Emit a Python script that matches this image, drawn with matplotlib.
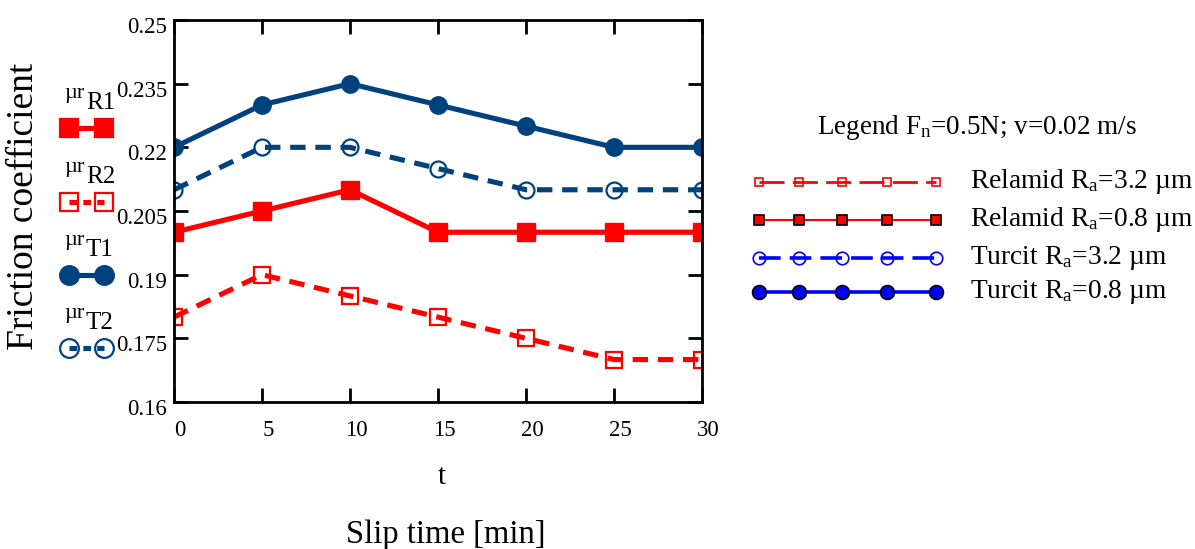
import matplotlib
matplotlib.use("Agg")
import matplotlib.pyplot as plt
from matplotlib.lines import Line2D
from matplotlib.transforms import ScaledTranslation

# ---- data ----
t = [0, 5, 10, 15, 20, 25, 30]
mu_R1 = [0.200, 0.205, 0.210, 0.200, 0.200, 0.200, 0.200]   # Relamid Ra=0.8
mu_R2 = [0.180, 0.190, 0.185, 0.180, 0.175, 0.170, 0.170]   # Relamid Ra=3.2
mu_T1 = [0.220, 0.230, 0.235, 0.230, 0.225, 0.220, 0.220]   # Turcit Ra=0.8
mu_T2 = [0.210, 0.220, 0.220, 0.215, 0.210, 0.210, 0.210]   # Turcit Ra=3.2
yticks = [0.16, 0.175, 0.19, 0.205, 0.22, 0.235, 0.25]
ytick_labels = ["0.16", "0.175", "0.19", "0.205", "0.22", "0.235", "0.25"]
xticks = [0, 5, 10, 15, 20, 25, 30]
legend_labels = ["Relamid R$_\\mathregular{a}$=3.2 \u00b5m",
                 "Relamid R$_\\mathregular{a}$=0.8 \u00b5m",
                 "Turcit R$_\\mathregular{a}$=3.2 \u00b5m",
                 "Turcit R$_\\mathregular{a}$=0.8 \u00b5m"]
left_labels = [("\u00b5r", "R1"), ("\u00b5r", "R2"), ("\u00b5r", "T1"), ("\u00b5r", "T2")]

plt.rcParams['font.family'] = ['Liberation Serif', 'DejaVu Serif']
plt.rcParams['mathtext.fontset'] = 'custom'
plt.rcParams['mathtext.rm'] = 'Liberation Serif'
plt.rcParams['mathtext.it'] = 'Liberation Serif:italic'

RED = '#FF0000'
DBLUE = '#00417F'
BLUE = '#0000FF'

W, H = 1195, 549
fig = plt.figure(figsize=(W / 100, H / 100), dpi=100)

def fx(x):
    return x / W

def fy(y):
    return 1 - y / H

L, R, T, B = 174, 702, 20, 402
ax = fig.add_axes([fx(L), fy(B), fx(R) - fx(L), (B - T) / H])

lw = 3.7
ms = 12.5
ax.plot(t, mu_T1, color=DBLUE, lw=lw, marker='o', ms=ms, mfc=DBLUE, mec=DBLUE, zorder=3)
ax.plot(t, mu_T2, color=DBLUE, lw=lw, ls=(0, (3.0, 1.9)), marker='o', ms=ms - 1,
        mfc='none', mec=DBLUE, mew=1.6, zorder=3)
ax.plot(t, mu_R1, color=RED, lw=lw, marker='s', ms=ms, mfc=RED, mec=RED, zorder=3)
ax.plot(t, mu_R2, color=RED, lw=lw, ls=(0, (3.0, 1.9)), marker='s', ms=ms - 1,
        mfc='none', mec=RED, mew=1.6, zorder=3)

ax.set_xlim(0, 30)
ax.set_ylim(0.16, 0.25)
ax.set_xticks(xticks)
ax.set_xticklabels([str(v) for v in xticks])
ax.set_yticks(yticks)
ax.set_yticklabels(ytick_labels)
ax.tick_params(direction='in', length=10, width=2, top=True, right=True,
               labelsize=16.5, pad=5)
ax.tick_params(axis='x', pad=13)
for s in ax.spines.values():
    s.set_linewidth(2)
    s.set_zorder(5)

# axis texts
fig.text(fx(24), fy(206), "Friction coefficient", rotation=90, fontsize=27,
         ha='center', va='center')
fig.text(fx(442), fy(484), "t", fontsize=21, ha='center', va='baseline')
fig.text(fx(446), fy(543), "Slip time [min]", fontsize=23.5, ha='center', va='baseline')

# left legend (Mathcad style)
left_y = [128, 202, 275, 348]
left_styles = [
    dict(color=RED, marker='s', mfc=RED, mec=RED, ls='-'),
    dict(color=RED, marker='s', mfc='none', mec=RED, ls=(0, (1.5, 1.2))),
    dict(color=DBLUE, marker='o', mfc=DBLUE, mec=DBLUE, ls='-'),
    dict(color=DBLUE, marker='o', mfc='none', mec=DBLUE, ls=(0, (1.5, 1.2))),
]
for (a, b), yy, st in zip(left_labels, left_y, left_styles):
    fig.add_artist(Line2D([fx(69), fx(104)], [fy(yy), fy(yy)], transform=fig.transFigure,
                          lw=lw, ms=ms + 1, mew=1.6, markevery=[0, 1], **st))
    fig.text(fx(64), fy(yy - 30), a, fontsize=16, ha='left', va='baseline')
    fig.text(fx(86), fy(yy - 19), b, fontsize=18, ha='left', va='baseline')

# right legend
fig.text(fx(977), fy(128), "Legend F$_\\mathregular{n}$=0.5N; v=0.02 m/s", fontsize=19.5,
         ha='center', va='center')
ry = [182, 220, 258, 292]
mx = [759, 799, 842, 887, 936]
rstyles = [
    dict(color=RED, lw=2, ls=(0, (9, 3)), marker='s', ms=6, mfc='none', mec=RED, mew=1.2),
    dict(color=RED, lw=1.5, ls='-', marker='s', ms=7, mfc=RED, mec='black', mew=1.2),
    dict(color=BLUE, lw=2.6, ls=(0, (6, 2.5)), marker='o', ms=9, mfc='none', mec=BLUE, mew=1.2),
    dict(color=BLUE, lw=2.6, ls='-', marker='o', ms=10, mfc=BLUE, mec='black', mew=1.2),
]
for yy, st, lab in zip(ry, rstyles, legend_labels):
    st = dict(st)
    marker = st.pop('marker'); msz = st.pop('ms'); mfc = st.pop('mfc'); mec = st.pop('mec'); mew = st.pop('mew')
    fig.add_artist(Line2D([fx(mx[0]), fx(mx[-1])], [fy(yy), fy(yy)],
                          transform=fig.transFigure, **st))
    fig.add_artist(Line2D([fx(v) for v in mx], [fy(yy)] * len(mx), transform=fig.transFigure,
                          ls='none', marker=marker, ms=msz, mfc=mfc, mec=mec, mew=mew))
    fig.text(fx(970), fy(yy), lab, fontsize=19.8, ha='left', va='center')

# shift tick labels like the reference
for lab in ax.get_yticklabels():
    lab.set_transform(lab.get_transform() + ScaledTranslation(0, -5 / 100, fig.dpi_scale_trans))
for lab in ax.get_xticklabels():
    lab.set_transform(lab.get_transform() + ScaledTranslation(6 / 100, 0, fig.dpi_scale_trans))

fig.savefig("out.png", dpi=100)
